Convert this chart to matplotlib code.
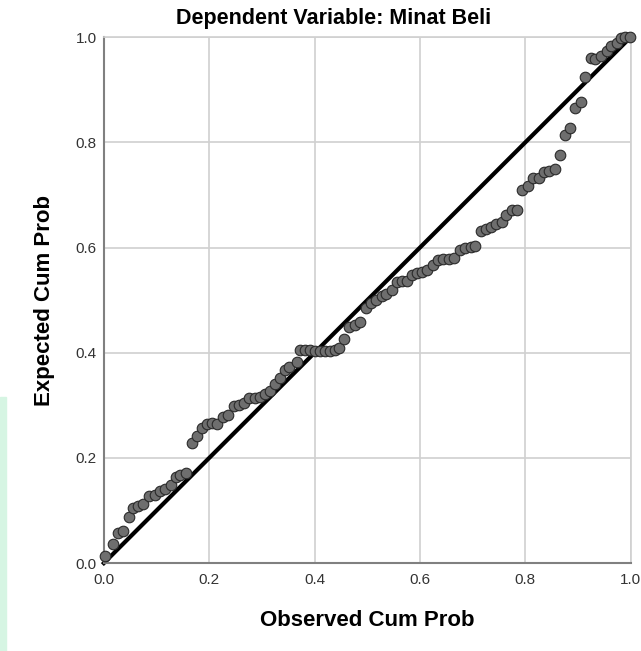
import matplotlib.pyplot as plt
from matplotlib.patches import Rectangle

# observed vs expected cumulative probabilities
observed = [0.002, 0.017, 0.027, 0.037, 0.048, 0.056, 0.065, 0.075, 0.086, 0.097,
            0.106, 0.116, 0.127, 0.137, 0.144, 0.156, 0.167, 0.176, 0.186, 0.195,
            0.205, 0.215, 0.227, 0.236, 0.247, 0.257, 0.266, 0.276, 0.287, 0.297,
            0.306, 0.316, 0.325, 0.335, 0.344, 0.352, 0.366, 0.373, 0.382, 0.392,
            0.401, 0.411, 0.420, 0.430, 0.439, 0.447, 0.455, 0.466, 0.476, 0.487,
            0.497, 0.507, 0.517, 0.527, 0.536, 0.546, 0.556, 0.566, 0.575, 0.585,
            0.594, 0.604, 0.613, 0.625, 0.634, 0.644, 0.655, 0.664, 0.675, 0.686,
            0.696, 0.705, 0.716, 0.726, 0.735, 0.745, 0.755, 0.764, 0.775, 0.785,
            0.794, 0.805, 0.815, 0.825, 0.835, 0.845, 0.856, 0.866, 0.875, 0.885,
            0.895, 0.905, 0.914, 0.924, 0.933, 0.944, 0.954, 0.963, 0.973, 0.982,
            0.990, 0.999]
expected = [0.013, 0.036, 0.057, 0.061, 0.087, 0.104, 0.109, 0.112, 0.127, 0.129,
            0.137, 0.140, 0.148, 0.163, 0.167, 0.172, 0.229, 0.242, 0.257, 0.264,
            0.266, 0.265, 0.278, 0.281, 0.298, 0.300, 0.304, 0.313, 0.314, 0.316,
            0.321, 0.327, 0.340, 0.352, 0.368, 0.373, 0.382, 0.406, 0.405, 0.406,
            0.404, 0.403, 0.403, 0.403, 0.406, 0.409, 0.426, 0.448, 0.452, 0.458,
            0.485, 0.495, 0.500, 0.507, 0.512, 0.519, 0.534, 0.536, 0.536, 0.548,
            0.552, 0.553, 0.557, 0.567, 0.576, 0.578, 0.578, 0.580, 0.596, 0.599,
            0.601, 0.602, 0.632, 0.635, 0.639, 0.645, 0.648, 0.662, 0.672, 0.672,
            0.710, 0.716, 0.732, 0.732, 0.743, 0.745, 0.749, 0.776, 0.814, 0.827,
            0.865, 0.876, 0.925, 0.960, 0.958, 0.964, 0.974, 0.983, 0.988, 0.998,
            1.000, 1.000]
ticks = [0.0, 0.2, 0.4, 0.6, 0.8, 1.0]
tick_labels = ['0.0', '0.2', '0.4', '0.6', '0.8', '1.0']

plt.rcParams['font.family'] = ['Liberation Sans', 'DejaVu Sans']

fig = plt.figure(figsize=(6.41, 6.51), dpi=100)

# faint watermark on the left edge
fig.patches.append(Rectangle((0, 0), 0.01, 0.39, transform=fig.transFigure,
                             color='#d6f5e3', zorder=0))

ax = fig.add_axes([0.162, 0.135, 0.822, 0.808])

ax.grid(True, color='#d0d0d0', linewidth=1.2)
ax.set_axisbelow(True)

# reference line
ax.plot([0, 1], [0, 1], color='black', linewidth=3, zorder=2, clip_on=False)

# points
ax.scatter(observed, expected, s=58, facecolor='#6e6e6e', edgecolor='#2a2a2a',
           linewidth=0.8, zorder=3, clip_on=False)

ax.set_xlim(0, 1)
ax.set_ylim(0, 1)
ax.set_xticks(ticks)
ax.set_xticklabels(tick_labels)
ax.set_yticks(ticks)
ax.set_yticklabels(tick_labels)
ax.tick_params(length=0, labelsize=11, labelcolor='#333333')
ax.tick_params(axis='x', pad=7)
ax.tick_params(axis='y', pad=5)

for side in ['top', 'right']:
    ax.spines[side].set_color('#d0d0d0')
    ax.spines[side].set_linewidth(1.2)
for side in ['left', 'bottom']:
    ax.spines[side].set_color('#808080')
    ax.spines[side].set_linewidth(1.5)

fig.text(0.52, 0.972, 'Dependent Variable: Minat Beli', fontsize=15.5,
         fontweight='bold', ha='center', va='center')
ax.set_xlabel('Observed Cum Prob', fontsize=16, fontweight='bold', labelpad=17)
ax.set_ylabel('Expected Cum Prob', fontsize=16, fontweight='bold', labelpad=15)

fig.savefig('out.png', dpi=100)
